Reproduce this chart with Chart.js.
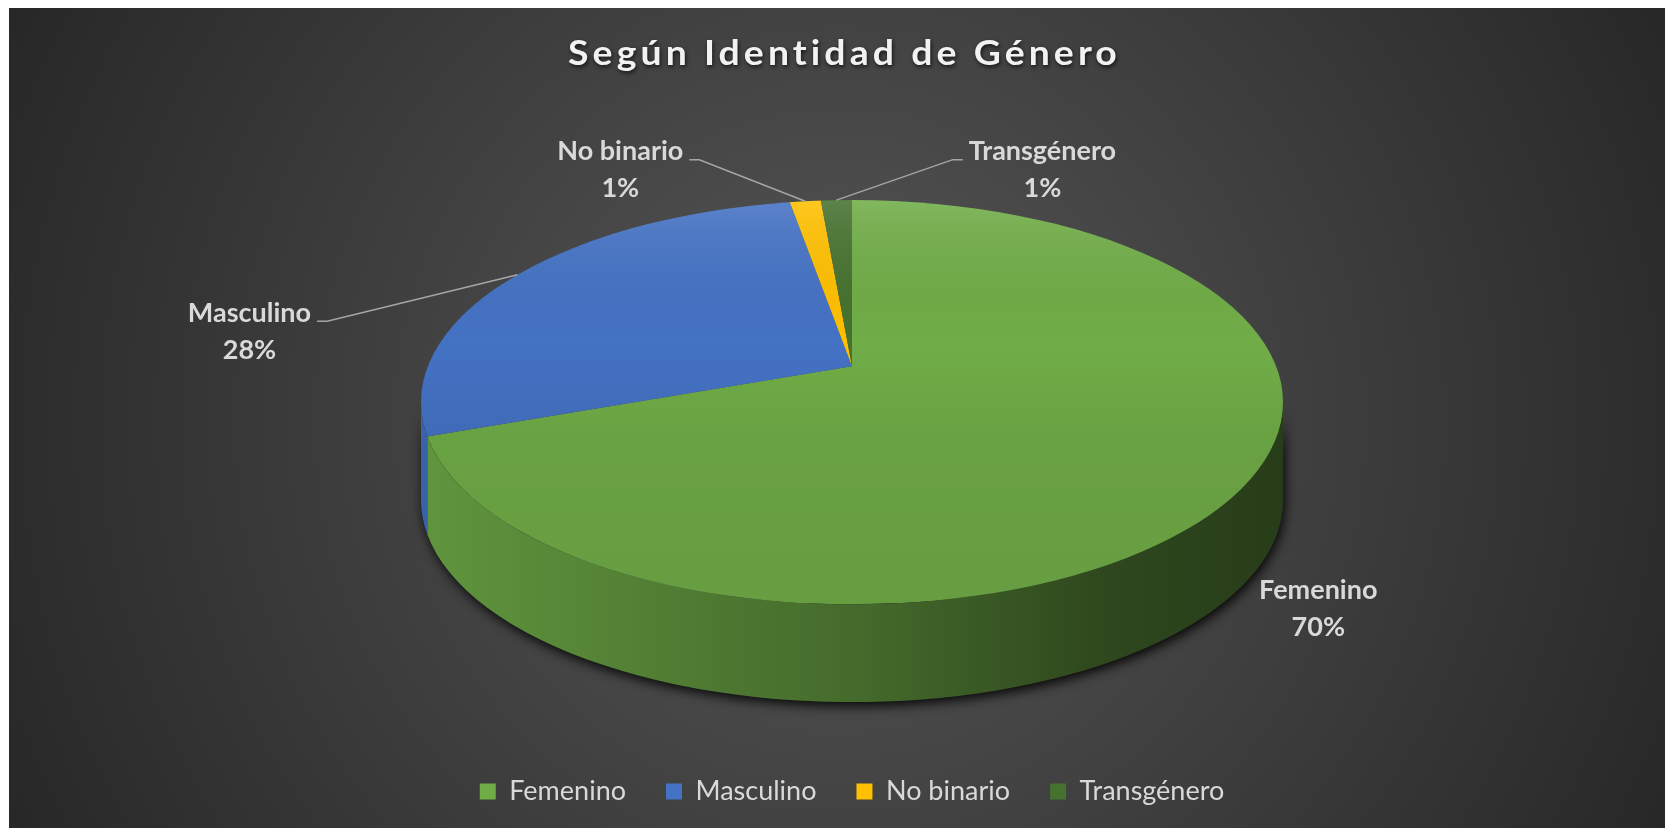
<!DOCTYPE html>
<html lang="es">
<head>
<meta charset="UTF-8">
<title>Según Identidad de Género</title>
<style>
    html, body { margin: 0; padding: 0; background: #fff; }
    .wrap { width: 1665px; height: 828px; position: relative; }
</style>
</head>
<body>
<div class="wrap"><canvas id="chart"></canvas></div>

<script src="https://cdn.jsdelivr.net/npm/chart.js"></script>
<script>
    const TITLE = 'Según Identidad de Género';
    const CATEGORIES = ['Femenino', 'Masculino', 'No binario', 'Transgénero'];
    const VALUES = [69.6, 27.6, 1.4, 1.4];
    const COLORS = ['#70ad47', '#4472c4', '#ffc000', '#46722f'];

    // label centre relative to the slice edge point, and whether a leader line is drawn
    const LABEL_OFFSETS = [[82, 115], [-268, 57], [-185, -31], [206, -30]];
    const LEADERS = [false, true, true, true];
    const LINE_GAP = 37;

    const TILT = 0.469;        // ry / rx of the top face
    const DEPTH = 0.227;       // thickness of the pie, relative to rx
    const APEX_SHIFT = 0.178;  // perspective: slice tips sit above the face centre (relative to ry)

    function shade(hex, f) {
        const n = parseInt(hex.slice(1), 16);
        const r = Math.round(((n >> 16) & 255) * f);
        const g = Math.round(((n >> 8) & 255) * f);
        const b = Math.round((n & 255) * f);
        return `rgb(${r},${g},${b})`;
    }

    function pieGeom(chart) {
        const a = chart.chartArea;
        const rx = (a.right - a.left) / 2;
        const ry = rx * TILT;
        return { cx: (a.left + a.right) / 2, cy: a.top + ry, rx: rx, ry: ry, d: rx * DEPTH };
    }

    // where the ray from the apex at slice angle th meets the rim (unit-circle coords)
    function rimPoint(th) {
        const ux = Math.cos(th), uy = Math.sin(th);
        const ay = -APEX_SHIFT;
        const b = ay * uy;
        const t = -b + Math.sqrt(b * b - ay * ay + 1);
        return { x: t * ux, y: ay + t * uy };
    }

    function rimAngle(th) {
        const q = rimPoint(th);
        return Math.atan2(q.y, q.x);
    }

    const pie3d = {
        id: 'pie3d',
        beforeDraw(chart) {
            const ctx = chart.ctx;
            ctx.save();
            ctx.fillStyle = '#fff';
            ctx.fillRect(0, 0, chart.width, chart.height);
            const g = ctx.createRadialGradient(840, 420, 0, 840, 420, 950);
            g.addColorStop(0, '#575757');
            g.addColorStop(1, '#262626');
            ctx.fillStyle = g;
            ctx.fillRect(9, 8, chart.width - 9, chart.height - 8);

            // title, slightly widened like the original
            ctx.font = 'bold 34px Lato';
            ctx.letterSpacing = '3.7px';
            ctx.textAlign = 'center';
            ctx.textBaseline = 'alphabetic';
            ctx.fillStyle = '#f2f2f2';
            ctx.shadowColor = 'rgba(0,0,0,0.7)';
            ctx.shadowBlur = 4;
            ctx.shadowOffsetX = 1;
            ctx.shadowOffsetY = 2;
            ctx.translate(chart.width / 2 + 12, 65);
            ctx.scale(1.1, 1);
            ctx.fillText(TITLE, 0, 0);
            ctx.restore();
        },
        beforeDatasetsDraw(chart) {
            const ctx = chart.ctx;
            const { cx, cy, rx, ry, d } = pieGeom(chart);
            const arcs = chart.getDatasetMeta(0).data;

            // shadow under the front wall
            ctx.save();
            ctx.beginPath();
            ctx.ellipse(cx, cy, rx, ry, 0, 0, Math.PI);
            ctx.ellipse(cx, cy + d, rx, ry, 0, Math.PI, 0, true);
            ctx.closePath();
            ctx.shadowColor = 'rgba(0,0,0,0.9)';
            ctx.shadowBlur = 12;
            ctx.shadowOffsetX = 2;
            ctx.shadowOffsetY = 4;
            ctx.fillStyle = '#222';
            ctx.fill();
            ctx.restore();

            // front wall of every slice that faces the viewer
            arcs.forEach((arc, i) => {
                const s = rimAngle(arc.startAngle);
                let e = rimAngle(arc.endAngle);
                while (e <= s) e += 2 * Math.PI;
                [0, 2 * Math.PI].forEach(k => {
                    const lo = Math.max(s, k), hi = Math.min(e, k + Math.PI);
                    if (hi <= lo) return;
                    const grad = ctx.createLinearGradient(cx - rx, 0, cx + rx, 0);
                    grad.addColorStop(0, shade(COLORS[i], 0.86));
                    grad.addColorStop(0.5, shade(COLORS[i], 0.62));
                    grad.addColorStop(0.8, shade(COLORS[i], 0.41));
                    grad.addColorStop(1, shade(COLORS[i], 0.35));
                    ctx.beginPath();
                    ctx.ellipse(cx, cy, rx, ry, 0, lo, hi);
                    ctx.ellipse(cx, cy + d, rx, ry, 0, hi, lo, true);
                    ctx.closePath();
                    ctx.fillStyle = grad;
                    ctx.fill();
                });
            });

            // map the circle Chart.js draws onto the tilted top face,
            // with the tips raised for perspective and cut to the rim
            const a0 = arcs[0];
            const r = a0.outerRadius;
            const k = 1 + APEX_SHIFT;
            ctx.save();
            ctx.beginPath();
            ctx.ellipse(cx, cy, rx, ry, 0, 0, 2 * Math.PI);
            ctx.clip();
            ctx.translate(cx, cy - APEX_SHIFT * ry);
            ctx.scale(rx * k / r, ry * k / r);
            ctx.translate(-a0.x, -a0.y);
        },
        afterDatasetsDraw(chart) {
            const ctx = chart.ctx;
            ctx.restore();
            const { cx, cy, rx, ry } = pieGeom(chart);
            const arcs = chart.getDatasetMeta(0).data;

            // light falling on the top face
            ctx.save();
            const g = ctx.createLinearGradient(0, cy - ry, 0, cy + ry);
            g.addColorStop(0, 'rgba(255,255,255,0.12)');
            g.addColorStop(0.35, 'rgba(0,0,0,0)');
            g.addColorStop(0.6, 'rgba(0,0,0,0.07)');
            g.addColorStop(1, 'rgba(0,0,0,0.09)');
            ctx.beginPath();
            ctx.ellipse(cx, cy, rx, ry, 0, 0, 2 * Math.PI);
            ctx.fillStyle = g;
            ctx.fill();
            ctx.restore();

            // data labels
            const total = VALUES.reduce((a, b) => a + b, 0);
            ctx.save();
            ctx.font = 'bold 27px Lato';
            ctx.fillStyle = '#d9d9d9';
            ctx.strokeStyle = '#a6a6a6';
            ctx.lineWidth = 1.5;
            ctx.textAlign = 'center';
            ctx.textBaseline = 'middle';
            arcs.forEach((arc, i) => {
                const q = rimPoint((arc.startAngle + arc.endAngle) / 2);
                const ex = cx + rx * q.x, ey = cy + ry * q.y;
                const lx = ex + LABEL_OFFSETS[i][0], ly = ey + LABEL_OFFSETS[i][1];
                const name = CATEGORIES[i];
                const pct = Math.round(VALUES[i] / total * 100) + '%';
                const y1 = ly - LINE_GAP / 2, y2 = ly + LINE_GAP / 2;
                if (LEADERS[i]) {
                    const side = LABEL_OFFSETS[i][0] < 0 ? 1 : -1;
                    const tx = lx + side * (ctx.measureText(name).width / 2 + 6);
                    const ty = y1 + 8;
                    ctx.beginPath();
                    ctx.moveTo(tx, ty);
                    ctx.lineTo(tx + side * 10, ty);
                    ctx.lineTo(ex, ey);
                    ctx.stroke();
                }
                ctx.fillText(name, lx, y1);
                ctx.fillText(pct, lx, y2);
            });
            ctx.restore();
        }
    };

    new Chart(document.getElementById('chart'), {
        type: 'pie',
        data: {
            labels: CATEGORIES,
            datasets: [{
                data: VALUES,
                backgroundColor: COLORS,
                borderWidth: 0,
                clip: false
            }]
        },
        options: {
            responsive: true,
            maintainAspectRatio: false,
            animation: false,
            events: [],
            layout: { padding: { top: 200, left: 421, right: 382, bottom: 13 } },
            plugins: {
                title: { display: false },
                tooltip: { enabled: false },
                legend: {
                    position: 'bottom',
                    labels: {
                        color: '#d9d9d9',
                        font: { family: 'Lato', size: 27 },
                        boxWidth: 16,
                        boxHeight: 16,
                        padding: 40
                    }
                }
            }
        },
        plugins: [pie3d]
    });
</script>
</body>
</html>
